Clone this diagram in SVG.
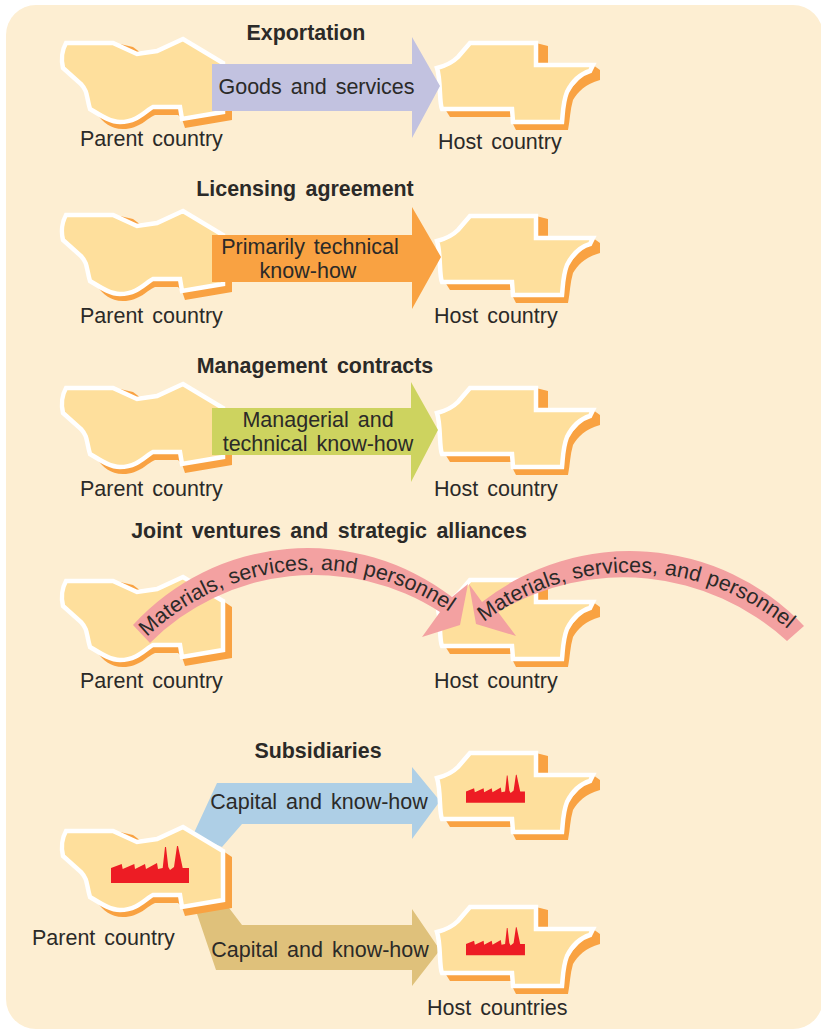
<svg xmlns="http://www.w3.org/2000/svg" width="821" height="1029" viewBox="0 0 821 1029">
<style>
text{font-family:"Liberation Sans",Arial,sans-serif;font-size:21.5px;fill:#2b2a28;word-spacing:3px}
.t{font-weight:bold;text-anchor:middle;font-size:21.4px;word-spacing:3.5px}
.m{text-anchor:middle}
.c{word-spacing:.5px}
.sh{fill:#f9a242}
.bd{fill:#fedf9c;stroke:#fff;stroke-width:4.5px;stroke-linejoin:miter}
.fa{fill:#ed1c24}
</style>
<defs>
<g id="parent">
<path class="sh" d="M120 44L133 47L141 53L137 55ZM223 63L232 69L232 120L185 128L182 119L178 115L155 115C147 118 140 129 123 129C110 129 103 122 97 114L150 100Z"/>
<path class="bd" d="M66 43L113 43L137 54L157 51L183 39L223 63L223 112L182 119L180 107L153 107C146 110 138 122 120 122C110 122 100 115 90 109C86 95 88 92 81 84L63 68C61 60 62 50 66 43Z"/>
</g>
<g id="host">
<path class="sh" d="M536 43L548 46L548 64L536 65ZM593 65L600 70L600 80C585 84 578 92 573 100C570 110 570 120 568 130L516 130L513 124L560 100ZM445 109L450 117L511 117L511 109Z"/>
<path class="bd" d="M437 68C445 66 453 62 458 57L470 43L536 43L536 65L593 65L590 71C580 74 572 82 567 92C563 102 563 112 562 122L513 122L512 109L442 109C439 103 441 80 437 68Z"/>
</g>
<path id="factory" class="fa" d="M0 36L0 21L10.700 17L11.700 22L23.300 17L24 22L34 17L35 22L46 16L47 22L51.700 21L54 0L55 0L57.300 20L59 23L63 20L66 -1L67 -1L71.700 21L78 21L78 36Z"/>
<path id="arcL" d="M147 637A240 240 0 0 1 455 616"/>
<path id="arcR" d="M484 622A244 244 0 0 1 800 640"/>
</defs>
<rect id="background" x="6" y="5" width="817" height="1024" rx="30" fill="#fdeed2"/>

<g id="row1">
<g id="parent1"><use href="#parent"/></g>
<g id="host1"><use href="#host"/></g>
</g>
<g id="row2">
<g id="parent2" transform="translate(0 172)"><use href="#parent"/></g>
<g id="host2" transform="translate(0 173)"><use href="#host"/></g>
</g>
<g id="row3">
<g id="parent3" transform="translate(0 345)"><use href="#parent"/></g>
<g id="host3" transform="translate(0 345)"><use href="#host"/></g>
</g>
<g id="row4">
<g id="parent4" transform="translate(0 538)"><use href="#parent"/></g>
<g id="host4" transform="translate(0 537)"><use href="#host"/></g>
</g>

<g id="connectors">
<polygon id="goods" fill="#c2c2e0" points="212,64 412,64 412,37 440,86 412,138 412,111 212,111"/>
<polygon id="licensing" fill="#f9a242" points="212,235 412,235 412,207 441,257 412,309 412,282 212,282"/>
<polygon id="management" fill="#cdd35f" points="212,408 411,408 411,382 438,430 411,482 411,455 212,455"/>
<path id="jvLeft" fill="#f3a1a1" d="M133 625A237 237 0 0 1 452 597L468 584L460 625L422 637L440 612A232 232 0 0 0 150 643Z"/>
<path id="jvRight" fill="#f3a1a1" d="M804 626A240 240 0 0 0 482 602L469 584L476 624L516 636L498 612A243 243 0 0 1 787 641Z"/>
<polygon id="capitalTop" fill="#aecfe6" points="217,783 412,783 412,767 440,801 412,839 412,824 242,824 222,847 193,835"/>
<polygon id="capitalBottom" fill="#dfc17b" points="195,908 223,900 242,925 412,925 412,909 440,950 412,986 412,970 216,970"/>
</g>

<g id="row5">
<g id="parent5"><use href="#parent" transform="translate(0 788)"/><use href="#factory" transform="translate(111 847)"/></g>
<g id="host5a"><use href="#host" transform="translate(0 710)"/><use href="#factory" transform="translate(466 775.500) scale(.756)"/></g>
<g id="host5b"><use href="#host" transform="translate(0 864)"/><use href="#factory" transform="translate(466 928) scale(.756)"/></g>
</g>

<g id="labels">
<text class="t" x="306" y="40">Exportation</text>
<text class="t" x="305" y="196">Licensing agreement</text>
<text class="t" x="315" y="373">Management contracts</text>
<text class="t" x="329" y="538">Joint ventures and strategic alliances</text>
<text class="t" x="318" y="758">Subsidiaries</text>
<text x="80" y="146">Parent country</text>
<text x="438" y="149">Host country</text>
<text x="80" y="323">Parent country</text>
<text x="434" y="323">Host country</text>
<text x="80" y="496">Parent country</text>
<text x="434" y="496">Host country</text>
<text x="80" y="688">Parent country</text>
<text x="434" y="688">Host country</text>
<text x="32" y="945">Parent country</text>
<text x="427" y="1015">Host countries</text>
<text class="m" x="316.500" y="94">Goods and services</text>
<text class="m" x="310" y="254">Primarily technical</text>
<text class="m" x="308" y="278">know-how</text>
<text class="m" x="318" y="427">Managerial and</text>
<text class="m" x="318" y="451">technical know-how</text>
<text class="m" x="319" y="809">Capital and know-how</text>
<text class="m" x="320" y="957">Capital and know-how</text>
<text class="c"><textPath href="#arcL">Materials, services, and personnel</textPath></text>
<text class="c"><textPath href="#arcR">Materials, services, and personnel</textPath></text>
</g>
</svg>
